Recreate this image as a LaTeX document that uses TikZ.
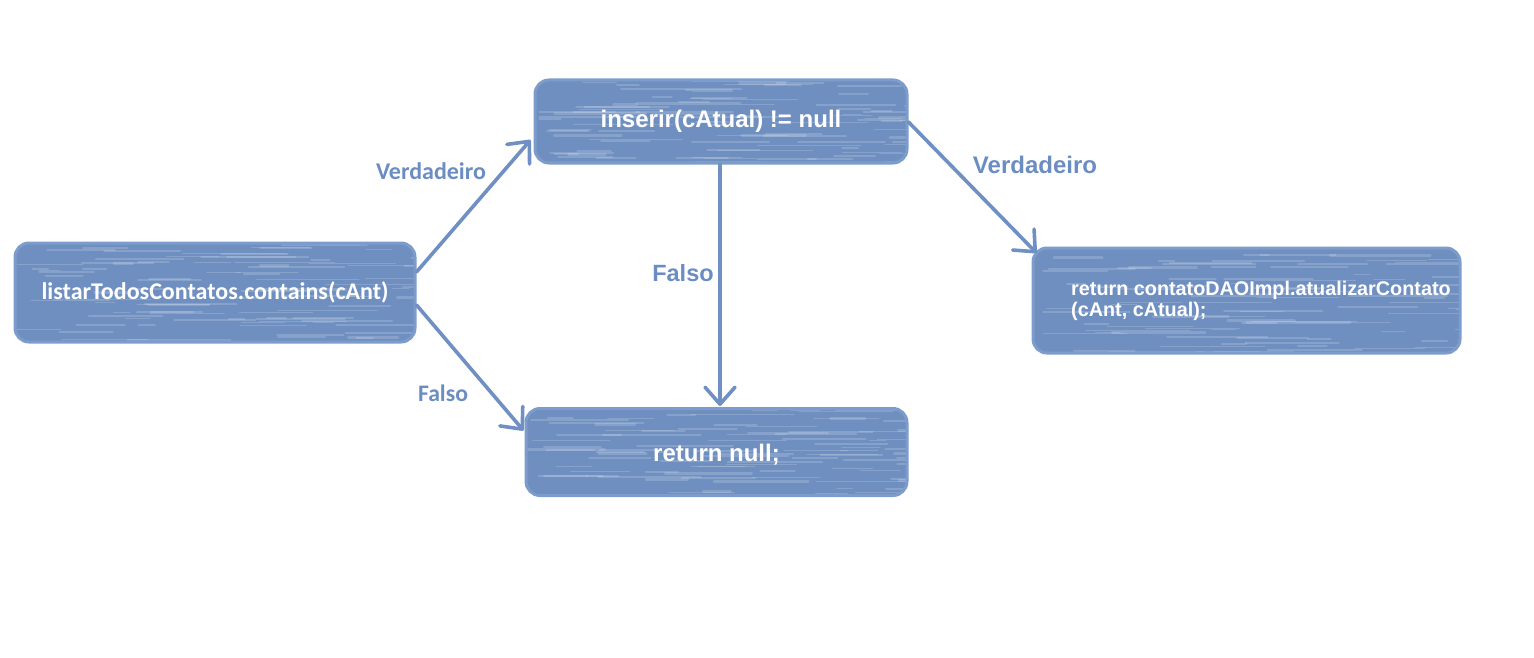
\documentclass[tikz,border=0pt]{standalone}
\usepackage{fontspec}
\setmainfont{Liberation Sans}
\newfontfamily\calib{Carlito}
\usetikzlibrary{arrows.meta,calc}
\definecolor{boxfill}{HTML}{6F8FC0}
\definecolor{boxedge}{HTML}{7C9CCB}
\definecolor{lblcol}{HTML}{6B8DC2}
\definecolor{arrcol}{HTML}{7090C3}
\tikzset{
  streaks/.style={path picture={
    \pgfmathsetseed{#1}
    \foreach \k in {1,...,90}{
      \pgfmathsetmacro{\fx}{rnd}\pgfmathsetmacro{\fy}{rnd}
      \pgfmathsetmacro{\len}{15+90*rnd}\pgfmathsetmacro{\lw}{0.8+2*rnd}
      \draw[white, opacity=0.16, line width=\lw pt, line cap=round]
        ($($(path picture bounding box.north west)!\fy!(path picture bounding box.south west)$)!\fx!($(path picture bounding box.north east)!\fy!(path picture bounding box.south east)$)$)
        -- ++(\len,0);
    }}},
  flowbox/.style={rectangle, rounded corners=14pt, fill=boxfill, draw=boxedge, line width=3pt, text=white, font=\bfseries, inner sep=0pt},
  conn/.style={draw=arrcol, line width=3.6pt, line cap=round, -{Straight Barb[length=17pt,width=30pt,line width=3.6pt,round]}},
  lbl/.style={text=lblcol, font=\bfseries, inner sep=0pt}
}
\begin{document}
\begin{tikzpicture}[x=1pt,y=-1pt]
\useasboundingbox (0,0) rectangle (1534,658);
\node[flowbox, streaks=11, minimum width=400pt, minimum height=99pt, font=\calib\bfseries\fontsize{24}{28}\selectfont] (A) at (215,292.5) {listarTodosContatos.contains(cAnt)};
\node[flowbox, streaks=23, minimum width=372pt, minimum height=83pt, font=\bfseries\fontsize{24}{28}\selectfont] (B) at (721,121.5) {inserir(cAtual) != null};
\node[flowbox, streaks=37, minimum width=381pt, minimum height=87pt, text height=23pt, font=\bfseries\fontsize{24}{28}\selectfont] (C) at (716.5,452) {return null;};
\node[flowbox, streaks=51, minimum width=427pt, minimum height=105pt] (D) at (1246.5,300.5) {};
\node[text=white, font=\bfseries\fontsize{19.8}{21}\selectfont, align=left, anchor=north west, inner sep=0pt] (Dt) at (1071,281) {return contatoDAOImpl.atualizarContato\\(cAnt, cAtual);};
\draw[conn] ($(A.east)+(0,-20.5)$) -- ($(B.west)+(-3,18.5)$);
\draw[conn] ($(A.east)+(0,12.5)$) -- ($(C.west)+(-1,-21.5)$);
\draw[conn] ($(B.south)+(-1,0)$) -- ($(C.north)+(3.5,-1)$);
\draw[conn] ($(B.east)+(0,0.5)$) -- ($(D.west)+(5,-47.5)$);
\node[lbl, font=\calib\bfseries\fontsize{24}{28}\selectfont] (l1) at (431,171) {Verdadeiro};
\node[lbl, font=\calib\bfseries\fontsize{23.7}{28}\selectfont] (l2) at (443,393) {Falso};
\node[lbl, font=\bfseries\fontsize{23.5}{28}\selectfont] (l3) at (683,273) {Falso};
\node[lbl, font=\bfseries\fontsize{24}{28}\selectfont] (l4) at (1035,165) {Verdadeiro};
\end{tikzpicture}
\end{document}
